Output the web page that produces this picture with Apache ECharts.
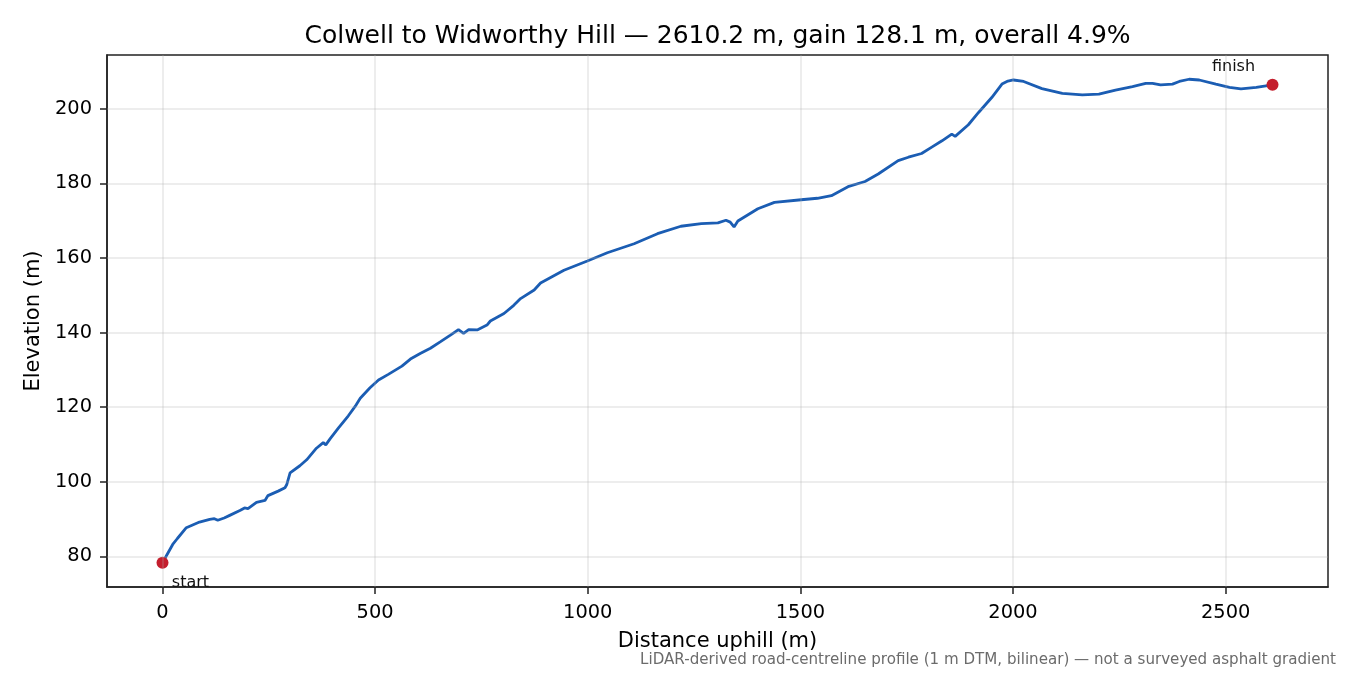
<!DOCTYPE html>
<html>
<head>
<meta charset="utf-8">
<script src="https://cdn.jsdelivr.net/npm/echarts@6/dist/echarts.min.js"></script>
<style>html,body{margin:0;padding:0;background:#fff;}#c{width:1350px;height:675px;}</style>
</head>
<body>
<div id="c"></div>
<script>
const distance = [0,24,35,56,87,111,122,130,145,158,182,193,201,221,241,248,272,288,292,300,323,339,362,378,384,394,413,425,437,441,453,465,488,508,531,563,583,606,630,653,677,696,700,708,720,740,763,771,803,826,842,874,889,944,999,1046,1109,1164,1219,1267,1306,1325,1335,1344,1353,1400,1439,1502,1540,1573,1612,1652,1683,1730,1754,1785,1809,1833,1856,1864,1895,1919,1950,1974,1988,2001,2025,2068,2116,2163,2202,2241,2281,2312,2328,2347,2375,2391,2414,2438,2477,2509,2536,2572,2610.2];
const elevation = [78.3,83.2,84.8,87.7,89.2,89.9,90.1,89.7,90.3,91.0,92.3,93.0,92.8,94.5,95.0,96.3,97.5,98.4,99.2,102.4,104.3,105.9,109.0,110.5,109.9,111.5,114.3,116.0,117.7,117.3,120.2,122.4,125.2,127.3,128.8,131.0,132.9,134.4,135.8,137.5,139.3,140.8,141.0,139.8,140.8,140.7,142.0,143.1,145.1,147.3,149.1,151.4,153.3,156.7,159.2,161.4,163.8,166.5,168.5,169.2,169.4,170.1,169.6,168.3,169.9,173.2,174.9,175.6,176.0,176.7,179.1,180.5,182.5,186.1,187.0,188.0,189.7,191.4,193.2,192.6,195.7,199.0,203.0,206.6,207.4,207.7,207.3,205.4,204.1,203.7,203.9,205.0,205.9,206.8,206.8,206.4,206.6,207.3,207.9,207.7,206.6,205.7,205.3,205.7,206.4];
const xTicks = [0,500,1000,1500,2000,2500];
const yTicks = [80,100,120,140,160,180,200];
const endpoints = [{name:'start', d:0, e:78.3}, {name:'finish', d:2610.2, e:206.4}];
const titleText = 'Colwell to Widworthy Hill \u2014 2610.2 m, gain 128.1 m, overall 4.9%';
const footnote = 'LiDAR-derived road-centreline profile (1 m DTM, bilinear) \u2014 not a surveyed asphalt gradient';

const FONT = 'DejaVu Sans';
const chart = echarts.init(document.getElementById('c'), null, {renderer:'canvas'});
const profile = distance.map((d,i)=>[d, elevation[i]]);
const gridColor = 'rgba(176,176,176,0.3)';

chart.setOption({
  animation:false,
  backgroundColor:'#fff',
  title:{text:titleText, left:712.5, textAlign:'center', top:19,
    textStyle:{fontFamily:FONT, fontSize:25, fontWeight:'normal', color:'#000'}},
  grid:{left:107, right:22, top:55, bottom:88, show:true, borderColor:'#222', borderWidth:1.5, backgroundColor:'transparent'},
  xAxis:{type:'value', min:-130.5, max:2740.7,
    name:'Distance uphill (m)', nameLocation:'middle', nameGap:44,
    nameTextStyle:{fontFamily:FONT, fontSize:21, color:'#000'},
    axisLine:{show:true, onZero:false, lineStyle:{color:'#222', width:1.5}},
    axisTick:{show:true, inside:false, length:7, lineStyle:{color:'#222', width:1.5}, customValues:xTicks},
    axisLabel:{fontFamily:FONT, fontSize:19.4, color:'#000', margin:16, customValues:xTicks, formatter:v=>String(v)},
    splitLine:{show:false}},
  yAxis:{type:'value', min:71.8, max:214.4,
    name:'Elevation (m)', nameLocation:'middle', nameGap:62, nameRotate:90,
    nameTextStyle:{fontFamily:FONT, fontSize:21, color:'#000'},
    axisLine:{show:true, onZero:false, lineStyle:{color:'#222', width:1.5}},
    axisTick:{show:true, inside:false, length:7, lineStyle:{color:'#222', width:1.5}, customValues:yTicks},
    axisLabel:{fontFamily:FONT, fontSize:19.4, color:'#000', margin:15, customValues:yTicks, formatter:v=>String(v)},
    splitLine:{show:false}},
  graphic:[{type:'text', right:14, top:653, style:{text:footnote, fontFamily:FONT, fontSize:15.1, fill:'#6b6b6b'}}],
  series:[
    {type:'line', name:'grid', z:1, data:[[0,78.3]], showSymbol:false, symbol:'none', lineStyle:{opacity:0}, silent:true,
      markLine:{silent:true, symbol:['none','none'], label:{show:false},
        lineStyle:{color:gridColor, width:1.5, type:'solid'},
        data:[...xTicks.map(v=>({xAxis:v})), ...yTicks.map(v=>({yAxis:v}))]}},
    {type:'line', name:'profile', z:3, data:profile, showSymbol:false, symbol:'none', smooth:false,
      lineStyle:{color:'#1b5db3', width:2.8}},
    {type:'scatter', name:'ends', z:4, symbolSize:12, itemStyle:{color:'#c41e2d', opacity:1},
      data:endpoints.map((p,i)=>({value:[p.d,p.e], label:{show:true, formatter:p.name, position:'inside',
        offset: i===0 ? [28,20] : [-39,-18], color:'#111', fontFamily:FONT, fontSize:16}}))}
  ]
});
</script>
</body>
</html>
